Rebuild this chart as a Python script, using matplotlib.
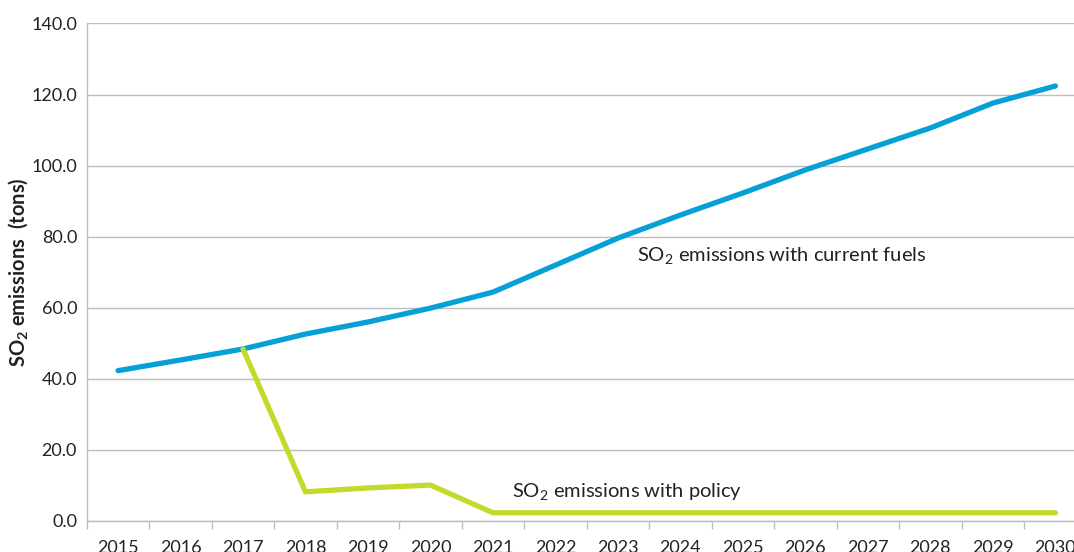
import matplotlib as mpl
mpl.use('Agg')
import matplotlib.pyplot as plt
from matplotlib.ticker import FixedLocator, FormatStrFormatter

plt.rcParams['font.family'] = ['Lato', 'DejaVu Sans']
plt.rcParams['mathtext.fontset'] = 'custom'
plt.rcParams['mathtext.rm'] = 'Lato'
plt.rcParams['mathtext.bf'] = 'Lato:bold'

# data
years = [2015, 2016, 2017, 2018, 2019, 2020, 2021, 2022,
         2023, 2024, 2025, 2026, 2027, 2028, 2029, 2030]
current_fuels = [42.3, 45.3, 48.4, 52.6, 56.0, 59.9, 64.4, 72.0,
                 79.6, 86.1, 92.3, 98.8, 104.7, 110.6, 117.6, 122.4]
policy_years = years[2:]
with_policy = [48.4, 8.2, 9.3, 10.1, 2.3, 2.3, 2.3, 2.3,
               2.3, 2.3, 2.3, 2.3, 2.3, 2.3]

blue = '#05a0d5'
green = '#c5d92c'
grid_col = '#bdbdbd'
text_col = '#222222'

fig = plt.figure(figsize=(10.74, 5.52), dpi=100)
# axes runs a little past the right edge, like the reference crop
ax = fig.add_axes([0.0808, 0.0562, 0.931, 0.9013])

xs = list(range(len(years)))
pxs = [years.index(y) for y in policy_years]

ax.plot(xs, current_fuels, color=blue, lw=3.8, solid_capstyle='round',
        solid_joinstyle='round', zorder=3)
ax.plot(pxs, with_policy, color=green, lw=3.8, solid_capstyle='round',
        solid_joinstyle='round', zorder=3)

ax.set_xlim(-0.5, len(years) - 0.5)
ax.set_ylim(0, 140)

# y axis
ax.set_yticks(range(0, 141, 20))
ax.yaxis.set_major_formatter(FormatStrFormatter('%.1f'))
ax.tick_params(axis='y', length=0, pad=7, labelsize=13, labelcolor=text_col)
ax.grid(axis='y', color=grid_col, lw=1.0)
ax.set_axisbelow(True)

# x axis: labels centred on categories, tick marks between them
ax.set_xticks(xs)
ax.set_xticklabels([str(y) for y in years])
ax.tick_params(axis='x', which='major', length=0, pad=14, labelsize=13,
               labelcolor=text_col)
ax.xaxis.set_minor_locator(FixedLocator([i - 0.5 for i in range(len(years) + 1)]))
ax.tick_params(axis='x', which='minor', length=6, width=1, color=grid_col)

for s in ['top', 'right']:
    ax.spines[s].set_visible(False)
for s in ['left', 'bottom']:
    ax.spines[s].set_color(grid_col)
    ax.spines[s].set_linewidth(1.0)

fig.text(18 / 1074, 1 - 272 / 552, r'SO$_\mathbf{2}$ emissions  (tons)',
         fontsize=14.5, fontweight='bold', color=text_col, rotation=90,
         ha='center', va='center')

ax.text(8.3, 74.5, r'SO$_2$ emissions with current fuels', fontsize=14.5,
        color=text_col, va='center', ha='left')
ax.text(6.3, 8.0, r'SO$_2$ emissions with policy', fontsize=14.5,
        color=text_col, va='center', ha='left')

fig.savefig('out.png', dpi=100)
